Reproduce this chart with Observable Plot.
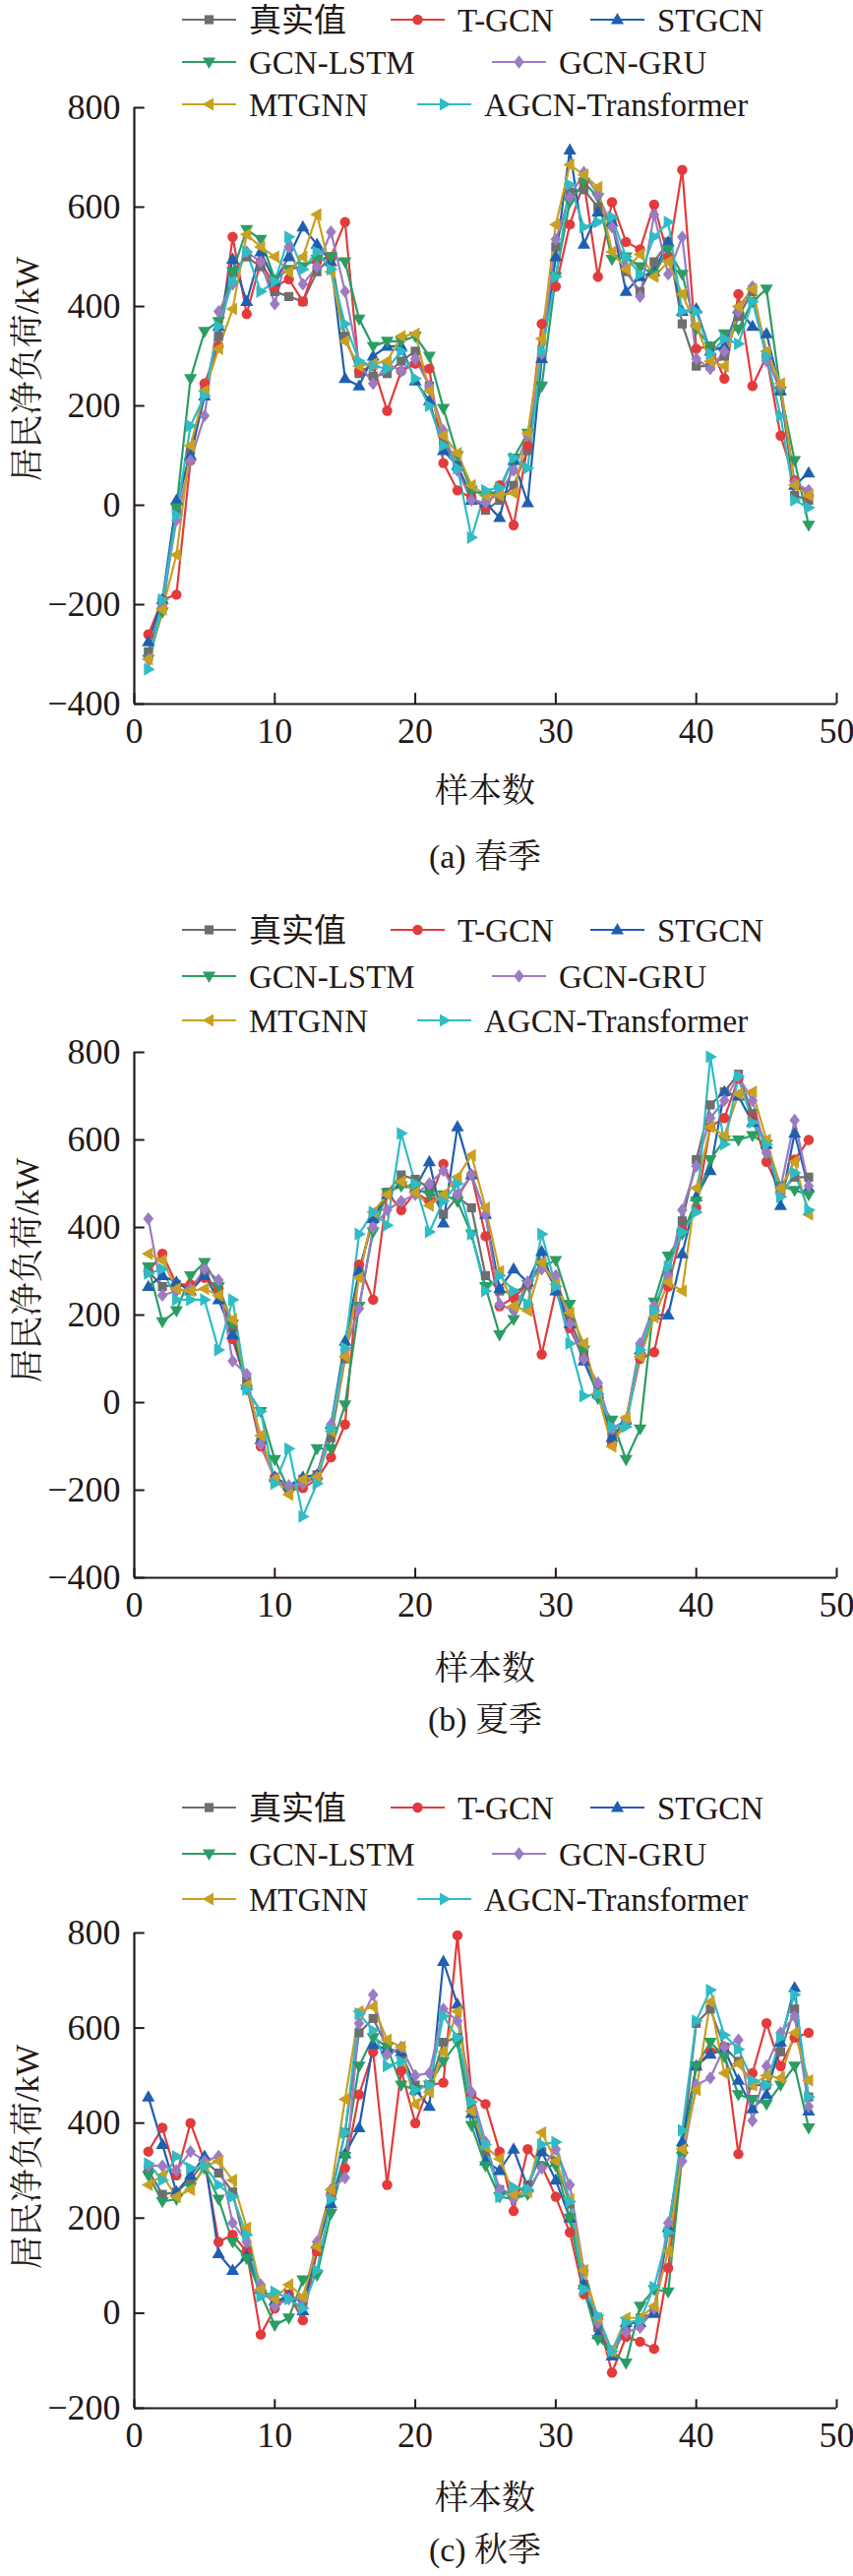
<!DOCTYPE html>
<html><head><meta charset="utf-8">
<script src="https://cdn.jsdelivr.net/npm/d3@7"></script>
<script src="https://cdn.jsdelivr.net/npm/@observablehq/plot@0.6"></script>
<style>
body{margin:0;background:#fff;}
#root{position:relative;width:867px;height:2618px;overflow:hidden;font-family:"Liberation Serif","Noto Serif CJK SC","Noto Sans CJK SC",serif;color:#231815;}
.lbl{position:absolute;font-size:34px;white-space:nowrap;transform:translate(-50%,-50%);}
</style></head>
<body><div id="root"></div>
<script>
const seriesNames = ["真实值","T-GCN","STGCN","GCN-LSTM","GCN-GRU","MTGNN","AGCN-Transformer"];
const seriesColors = ["#6e6e6e","#e23b3b","#1f5fb0","#2a9d62","#9b7cc2","#c9a022","#2fbcc4"];
const samples = d3.range(1,49);
const xTicks = [0,10,20,30,40,50];
const yTicksA = [-400,-200,0,200,400,600,800];
const yTicksC = [-200,0,200,400,600,800];

// (a) spring
const springTrue = [-295,-200,-10,110,230,340,470,500,480,430,420,410,470,500,340,265,260,265,290,310,240,130,80,20,-10,10,40,110,300,520,630,635,600,570,470,430,490,530,365,280,280,300,380,430,300,230,20,10];
const springTGCN = [-260,-190,-180,90,245,320,540,385,490,440,455,410,490,500,570,270,280,190,270,285,275,85,30,15,-5,40,-40,120,365,440,565,650,460,610,530,515,605,500,675,315,320,255,425,240,300,140,50,20];
const springSTGCN = [-275,-190,10,100,220,360,495,410,510,450,500,560,525,490,255,240,300,320,320,250,210,110,80,10,5,-25,90,5,295,500,715,525,590,570,430,460,470,530,390,395,310,320,395,360,345,230,40,65];
const springLSTM = [-310,-215,-5,255,350,370,470,555,535,455,475,480,495,500,490,375,320,330,330,340,300,195,100,30,20,30,95,145,240,460,610,650,620,495,500,480,465,515,465,355,320,345,355,410,435,230,90,-40];
const springGRU = [-310,-200,-30,90,180,390,445,510,490,405,520,445,480,550,430,285,245,285,270,295,240,150,70,10,5,25,70,140,305,535,620,670,625,560,480,420,585,465,540,295,275,310,390,440,290,240,45,30];
const springMTGNN = [-310,-210,-100,120,230,315,395,545,520,500,470,500,585,470,330,280,285,290,340,345,230,140,105,40,20,20,25,145,335,565,685,665,640,510,475,505,460,490,425,360,290,280,400,435,310,245,40,20];
const springAGCN = [-330,-190,-20,160,220,360,450,510,430,450,540,475,510,475,365,290,280,275,310,255,200,120,75,-65,30,35,95,75,310,460,645,560,570,580,500,465,540,570,390,390,305,335,325,410,300,180,10,-5];

// (b) summer
const summerTrue = [300,265,270,265,295,250,170,50,-90,-175,-195,-175,-165,-80,100,300,420,480,520,510,490,430,470,445,290,255,250,270,320,260,190,110,30,-80,-40,110,210,300,415,555,680,710,750,660,590,480,515,515];
const summerTGCN = [300,340,270,270,285,260,145,40,-100,-170,-200,-195,-175,-125,-50,315,235,480,440,480,460,545,470,520,380,220,240,270,110,255,170,100,20,-95,-45,100,115,265,395,445,630,650,740,650,550,480,555,600];
const summerSTGCN = [265,290,275,255,290,235,155,40,-85,-170,-190,-170,-165,-50,140,300,420,475,500,490,550,410,630,520,430,260,305,275,345,255,180,95,20,-80,-40,120,200,200,340,470,530,710,700,640,590,450,615,490];
const summerLSTM = [310,185,210,290,320,265,180,30,-20,-130,-200,-185,-105,-105,-5,220,390,480,495,490,475,475,460,385,265,155,190,270,310,325,225,120,10,-40,-130,-60,230,335,385,460,555,600,600,610,590,495,485,475];
const summerGRU = [420,245,255,260,305,280,95,65,-95,-175,-190,-185,-170,-50,120,215,400,440,460,475,500,530,475,520,430,225,210,275,305,290,180,100,45,-60,-40,135,220,290,440,540,650,690,745,690,570,490,645,495];
const summerMTGNN = [340,325,260,255,260,245,190,40,-75,-175,-210,-175,-170,-65,105,285,435,475,505,480,450,475,515,565,445,300,220,210,320,270,205,135,20,-100,-35,105,195,275,255,490,630,610,705,710,600,490,550,430];
const summerAGCN = [295,305,235,235,235,120,235,30,-20,-185,-105,-260,-185,-60,125,385,435,405,615,500,390,460,500,385,255,290,255,225,385,265,135,15,20,-55,-55,120,210,310,390,435,790,590,745,640,590,470,525,440];

// (c) autumn
const autumnTrue = [300,250,255,280,320,295,255,130,50,20,40,20,130,250,380,590,620,560,545,480,475,570,580,430,340,260,250,270,340,320,230,60,-30,-90,-30,-10,0,170,350,610,640,560,530,480,480,550,640,455];
const autumnTGCN = [340,390,290,400,320,150,165,130,-45,10,40,-15,130,250,305,460,550,270,510,400,480,485,795,460,440,340,215,345,310,245,170,40,-10,-125,-50,-60,-75,95,340,520,550,560,335,505,610,520,580,590];
const autumnSTGCN = [455,355,255,290,330,125,90,120,50,25,35,5,145,230,335,390,565,555,550,470,435,740,650,420,320,300,345,265,340,280,200,60,-45,-90,-20,-20,0,180,360,520,545,555,490,430,460,570,685,425];
const autumnLSTM = [290,235,240,265,305,240,150,115,40,-25,-10,70,80,210,330,520,580,560,480,470,480,530,570,395,310,245,240,250,310,310,200,50,-55,-80,-105,15,50,45,330,520,570,540,460,450,440,480,520,390];
const autumnGRU = [310,310,300,340,320,330,190,150,60,15,30,30,150,260,285,610,670,545,560,500,505,640,615,465,360,260,240,260,305,345,270,90,-20,-80,-40,-30,10,190,320,480,495,560,575,405,520,590,625,435];
const autumnMTGNN = [270,290,245,260,310,320,280,180,50,30,60,35,140,260,450,635,645,575,560,440,465,550,635,425,350,325,250,255,380,320,240,90,-10,-80,-10,-10,15,130,345,470,655,505,525,480,500,495,590,490];
const autumnAGCN = [315,280,330,305,310,270,245,165,35,45,30,10,90,240,380,630,595,520,530,470,480,625,580,445,355,245,265,260,355,360,235,50,-5,-80,-20,-15,55,170,385,615,680,585,555,490,480,580,670,455];

const sq = {draw(c,s){const h=Math.sqrt(s)/2;c.rect(-h,-h,2*h,2*h);}};
const circ = {draw(c,s){const r=Math.sqrt(s/Math.PI);c.moveTo(r,0);c.arc(0,0,r,0,2*Math.PI);}};
const up = {draw(c,s){const a=Math.sqrt(s)*0.75;c.moveTo(0,-a);c.lineTo(a*0.95,a*0.65);c.lineTo(-a*0.95,a*0.65);c.closePath();}};
const down = {draw(c,s){const a=Math.sqrt(s)*0.75;c.moveTo(0,a);c.lineTo(a*0.95,-a*0.65);c.lineTo(-a*0.95,-a*0.65);c.closePath();}};
const dia = {draw(c,s){const a=Math.sqrt(s)*0.72;c.moveTo(0,-a);c.lineTo(a*0.8,0);c.lineTo(0,a);c.lineTo(-a*0.8,0);c.closePath();}};
const left = {draw(c,s){const a=Math.sqrt(s)*0.75;c.moveTo(-a,0);c.lineTo(a*0.65,-a*0.95);c.lineTo(a*0.65,a*0.95);c.closePath();}};
const right = {draw(c,s){const a=Math.sqrt(s)*0.75;c.moveTo(a,0);c.lineTo(-a*0.65,-a*0.95);c.lineTo(-a*0.65,a*0.95);c.closePath();}};
const symbols = [sq,circ,up,down,dia,left,right];

const panels = [
  {data:[springTrue,springTGCN,springSTGCN,springLSTM,springGRU,springMTGNN,springAGCN], top:109, bottom:715, ymin:-400, ticks:yTicksA,
   legend:[20,63,106], xlab:800, cap:867, ylab:375, caption:"(a) 春季"},
  {data:[summerTrue,summerTGCN,summerSTGCN,summerLSTM,summerGRU,summerMTGNN,summerAGCN], top:1069, bottom:1603, ymin:-400, ticks:yTicksA,
   legend:[945,992,1037], xlab:1692, cap:1744, ylab:1291, caption:"(b) 夏季"},
  {data:[autumnTrue,autumnTGCN,autumnSTGCN,autumnLSTM,autumnGRU,autumnMTGNN,autumnAGCN], top:1964, bottom:2447, ymin:-200, ticks:yTicksC,
   legend:[1837,1884,1930], xlab:2535, cap:2588, ylab:2192, caption:"(c) 秋季"}
];
const legendPos = [[185,0],[397,0],[600,0],[185,1],[500,1],[185,2],[424,2]];
const root = document.getElementById("root");
const ink = "#231815";
const serif = "'Liberation Serif', 'Noto Sans CJK SC', serif";

panels.forEach(p => {
  const mt = 20, mb = 60;
  const h = p.bottom - p.top + mt + mb;
  const range = 800 - p.ymin;
  const marks = [];
  p.data.forEach((vals,i) => {
    const rows = samples.map((s,j)=>({x:s,y:vals[j]}));
    marks.push(Plot.line(rows,{x:"x",y:"y",stroke:seriesColors[i],strokeWidth:2.2}));
  });
  p.data.forEach((vals,i) => {
    const rows = samples.map((s,j)=>({x:s,y:vals[j]}));
    marks.push(Plot.dot(rows,{x:"x",y:"y",fill:seriesColors[i],stroke:"none",symbol:symbols[i],r:5.2}));
  });
  marks.push(Plot.ruleX([0],{stroke:ink,strokeWidth:2.2}));
  marks.push(Plot.ruleY([p.ymin],{stroke:ink,strokeWidth:2.2}));
  marks.push(Plot.ruleX(xTicks,{x:d=>d,y1:p.ymin,y2:p.ymin+range*0.018,stroke:ink,strokeWidth:2}));
  marks.push(Plot.ruleY(p.ticks,{y:d=>d,x1:0,x2:0.75,stroke:ink,strokeWidth:2}));
  const chart = Plot.plot({
    width:867, height:h, marginTop:mt, marginBottom:mb, marginLeft:136, marginRight:17,
    style:{fontFamily:serif, fontSize:"36px", color:ink, background:"transparent", overflow:"visible"},
    x:{domain:[0,50], ticks:xTicks, tickSize:0, tickPadding:14, label:null},
    y:{domain:[p.ymin,800], ticks:p.ticks, tickSize:0, tickPadding:14, label:null},
    marks:[...marks, Plot.axisX({ticks:xTicks,tickSize:0,tickPadding:14,fontSize:36,fontFamily:serif,label:null}),
           Plot.axisY({ticks:p.ticks,tickSize:0,tickPadding:14,fontSize:36,fontFamily:serif,label:null})]
  });
  chart.style.position="absolute"; chart.style.left="0px"; chart.style.top=(p.top-mt)+"px";
  root.appendChild(chart);

  const ns="http://www.w3.org/2000/svg";
  const svg=document.createElementNS(ns,"svg");
  svg.setAttribute("width",867); svg.setAttribute("height",130);
  svg.style.position="absolute"; svg.style.left="0px"; svg.style.top=(p.legend[0]-20)+"px";
  seriesNames.forEach((name,i)=>{
    const [lx,row]=legendPos[i];
    const cy=p.legend[row]-p.legend[0]+20;
    const ln=document.createElementNS(ns,"line");
    ln.setAttribute("x1",lx);ln.setAttribute("x2",lx+55);ln.setAttribute("y1",cy);ln.setAttribute("y2",cy);
    ln.setAttribute("stroke",seriesColors[i]);ln.setAttribute("stroke-width",2.2);
    svg.appendChild(ln);
    const path=d3.path(); symbols[i].draw(path,85);
    const pt=document.createElementNS(ns,"path");
    pt.setAttribute("d",path.toString());pt.setAttribute("fill",seriesColors[i]);
    pt.setAttribute("transform",`translate(${lx+27.5},${cy})`);
    svg.appendChild(pt);
    const tx=document.createElementNS(ns,"text");
    tx.setAttribute("x",lx+68);tx.setAttribute("y",cy);tx.setAttribute("dy","0.35em");
    tx.setAttribute("font-size",33);tx.setAttribute("fill",ink);
    tx.style.fontFamily=serif;
    tx.textContent=name; svg.appendChild(tx);
  });
  root.appendChild(svg);

  const add=(txt,x,y,rot)=>{const d=document.createElement("div");d.className="lbl";d.textContent=txt;
    d.style.left=x+"px";d.style.top=y+"px";if(rot)d.style.transform="translate(-50%,-50%) rotate(-90deg)";root.appendChild(d);};
  add("样本数",493,p.xlab);
  add(p.caption,493,p.cap);
  add("居民净负荷/kW",24,p.ylab,true);
});
</script></body></html>
